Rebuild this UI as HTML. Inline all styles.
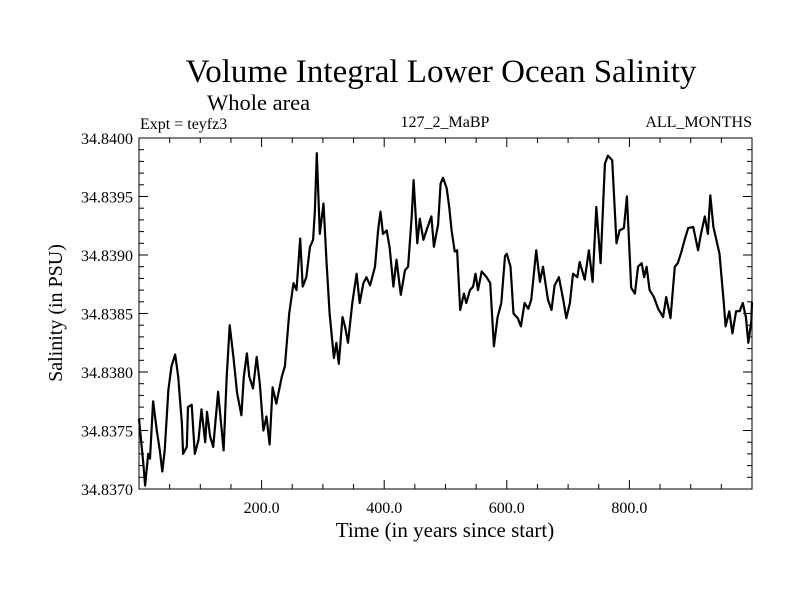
<!DOCTYPE html>
<html><head><meta charset="utf-8"><style>
body{margin:0;background:#fff;}
svg text{font-family:"Liberation Serif",serif;fill:#000;}
</style></head><body>
<svg id="chart" width="800" height="600" xmlns="http://www.w3.org/2000/svg">
<text x="441" y="82" font-size="33" text-anchor="middle">Volume Integral Lower Ocean Salinity</text>
<text x="207" y="110" font-size="22.5">Whole area</text>
<text x="140" y="129" font-size="16">Expt = teyfz3</text>
<text x="445" y="127" font-size="16" text-anchor="middle">127_2_MaBP</text>
<text x="752" y="127" font-size="16" text-anchor="end">ALL_MONTHS</text>
<text x="445" y="537" font-size="21" text-anchor="middle">Time (in years since start)</text>
<text transform="translate(62,313) rotate(-90)" font-size="20" text-anchor="middle">Salinity (in PSU)</text>
<g id="axes"></g>
<path id="line" fill="none" stroke="#000" stroke-width="2.2" stroke-linejoin="round"/>
<rect x="139" y="138" width="613" height="351" fill="none" stroke="#000" stroke-width="1"/>
</svg>
<script>
const years=[0,7,10,15,18,23,29,34,38,42,48,53,59,64,70,72,78,80,86,91,97,102,108,111,116,121,129,138,143,148,154,160,167,171,176,180,186,192,197,203,208,213,218,224,233,238,245,252,257,263,267,273,279,284,287,290,295,301,306,311,318,322,326,332,336,341,348,355,360,366,371,377,385,390,394,398,404,409,415,420,427,434,439,445,448,454,458,464,469,477,481,488,492,496,502,506,510,515,519,524,530,534,540,545,549,553,559,567,573,579,585,591,597,600,606,611,618,623,629,635,640,648,654,659,667,673,678,685,692,697,703,708,715,719,727,734,740,746,753,760,765,772,779,784,791,796,803,809,814,820,824,828,833,840,847,855,860,867,874,879,885,890,896,904,912,916,923,928,932,937,947,954,957,963,968,974,980,985,990,994,999,1000];
const salinity=[34.83760,34.83722,34.83703,34.83730,34.83726,34.83775,34.83750,34.83733,34.83715,34.83733,34.83785,34.83805,34.83815,34.83796,34.83756,34.83730,34.83736,34.83770,34.83772,34.83730,34.83742,34.83768,34.83740,34.83766,34.83745,34.83736,34.83783,34.83733,34.83796,34.83840,34.83813,34.83782,34.83763,34.83796,34.83816,34.83796,34.83786,34.83813,34.83790,34.83750,34.83762,34.83738,34.83787,34.83773,34.83796,34.83805,34.83850,34.83876,34.83870,34.83914,34.83873,34.83881,34.83907,34.83913,34.83938,34.83987,34.83918,34.83944,34.83893,34.83850,34.83812,34.83825,34.83807,34.83847,34.83839,34.83825,34.83859,34.83884,34.83859,34.83876,34.83881,34.83874,34.83890,34.83921,34.83937,34.83918,34.83921,34.83906,34.83873,34.83896,34.83866,34.83887,34.83890,34.83934,34.83964,34.83910,34.83931,34.83913,34.83921,34.83933,34.83907,34.83926,34.83961,34.83966,34.83957,34.83941,34.83921,34.83903,34.83904,34.83853,34.83867,34.83859,34.83870,34.83873,34.83884,34.83870,34.83886,34.83881,34.83876,34.83822,34.83847,34.83859,34.83899,34.83901,34.83890,34.83850,34.83846,34.83839,34.83859,34.83854,34.83862,34.83904,34.83877,34.83890,34.83862,34.83853,34.83874,34.83881,34.83862,34.83846,34.83859,34.83884,34.83881,34.83894,34.83879,34.83904,34.83877,34.83941,34.83893,34.83978,34.83985,34.83981,34.83910,34.83921,34.83923,34.83950,34.83872,34.83867,34.83890,34.83893,34.83881,34.83890,34.83870,34.83864,34.83854,34.83847,34.83864,34.83846,34.83890,34.83893,34.83903,34.83913,34.83923,34.83924,34.83904,34.83916,34.83933,34.83918,34.83951,34.83924,34.83901,34.83859,34.83839,34.83852,34.83833,34.83852,34.83852,34.83859,34.83847,34.83825,34.83844,34.83860];
const xTickLabels=["200.0","400.0","600.0","800.0"];
const xTickValues=[200,400,600,800];
const yTickLabels=["34.8370","34.8375","34.8380","34.8385","34.8390","34.8395","34.8400"];
const yTickValues=[34.8370,34.8375,34.8380,34.8385,34.8390,34.8395,34.8400];
const X0=139,X1=752,Y0=489,Y1=138,xmin=0,xmax=1000,ymin=34.8370,ymax=34.8400;
function sx(v){return X0+(v-xmin)/(xmax-xmin)*(X1-X0);}
function sy(v){return Y0-(v-ymin)/(ymax-ymin)*(Y0-Y1);}
const NS="http://www.w3.org/2000/svg";
const g=document.getElementById('axes');
function line(x1,y1,x2,y2,name){const l=document.createElementNS(NS,'line');l.setAttribute('x1',x1);l.setAttribute('y1',y1);l.setAttribute('x2',x2);l.setAttribute('y2',y2);l.setAttribute('stroke','#000');l.setAttribute('stroke-width','1');


g.appendChild(l);}
for(let v=50;v<xmax;v+=50){const x=sx(v);const L=(v%200===0)?9:5;line(x,Y0,x,Y0-L,'x-tick');line(x,Y1,x,Y1+L,'x-tick-top');}
for(let i=1;i<30;i++){const v=ymin+i*0.0001;const y=sy(v);const L=(i%5===0)?9:5;line(X0,y,X0+L,y,'y-tick');line(X1,y,X1-L,y,'y-tick-right');}
xTickValues.forEach((v,i)=>{const t=document.createElementNS(NS,'text');t.setAttribute('x',sx(v));t.setAttribute('y',Y0+24);t.setAttribute('font-size','16');t.setAttribute('text-anchor','middle');t.textContent=xTickLabels[i];


g.appendChild(t);});
yTickValues.forEach((v,i)=>{const t=document.createElementNS(NS,'text');t.setAttribute('x',X0-6);t.setAttribute('y',sy(v)+6);t.setAttribute('font-size','16');t.setAttribute('text-anchor','end');t.textContent=yTickLabels[i];


g.appendChild(t);});
document.getElementById('line').setAttribute('d',years.map((y,i)=>(i?'L':'M')+sx(y).toFixed(1)+','+sy(salinity[i]).toFixed(1)).join(''));
</script>
</body></html>
